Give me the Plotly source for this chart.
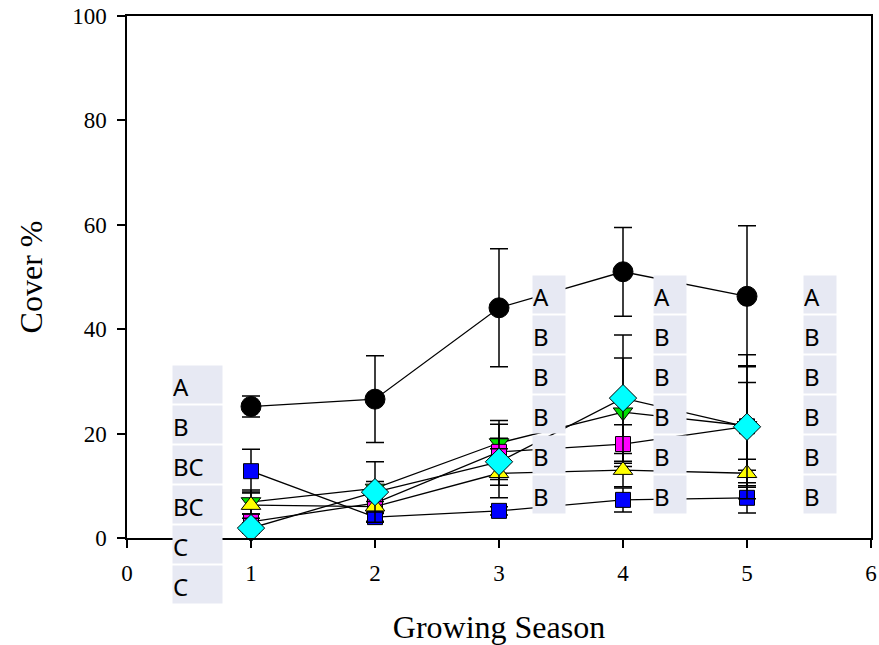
import plotly.graph_objects as go

seasons = [1, 2, 3, 4, 5]

black_mean = [25.2, 26.6, 44.1, 51.0, 46.3]
black_err = [2.0, 8.3, 11.3, 8.5, 13.5]

green_mean = [6.9, 9.5, 18.2, 24.1, 21.5]
green_err = [2.3, 1.3, 4.3, 10.4, 11.5]

magenta_mean = [3.1, 6.7, 16.5, 18.0, 21.4]
magenta_err = [1.5, 2.0, 5.3, 3.7, 8.4]

blue_mean = [12.8, 4.0, 5.2, 7.3, 7.7]
blue_err = [4.2, 0.8, 0.8, 2.3, 2.9]

yellow_mean = [6.3, 6.0, 12.4, 13.0, 12.4]
yellow_err = [2.5, 1.0, 4.7, 3.2, 2.7]

cyan_mean = [1.9, 8.8, 14.6, 26.8, 21.3]
cyan_err = [1.0, 5.8, 4.5, 12.1, 13.8]

letters_col1 = ["A", "B", "BC", "BC", "C", "C"]
letters_col2 = ["A", "B", "B", "B", "B", "B"]
letters_col3 = ["A", "B", "B", "B", "B", "B"]
letters_col4 = ["A", "B", "B", "B", "B", "B"]

series = [
    ("black", black_mean, black_err, "circle", "#000000", 20),
    ("green", green_mean, green_err, "triangle-down", "#00E000", 17),
    ("magenta", magenta_mean, magenta_err, "square", "#FF00FF", 15),
    ("blue", blue_mean, blue_err, "square", "#0000FF", 15),
    ("yellow", yellow_mean, yellow_err, "triangle-up", "#FFFF00", 17),
    ("cyan", cyan_mean, cyan_err, "diamond", "#00FFFF", 21),
]

fig = go.Figure()
for name, m, e, sym, col, sz in series:
    fig.add_trace(go.Scatter(
        x=seasons, y=m, name=name, mode="lines+markers",
        line=dict(color="black", width=1.3),
        marker=dict(symbol=sym, size=sz, color=col, line=dict(color="black", width=1)),
        error_y=dict(type="data", array=e, visible=True, color="black", thickness=1.5, width=9),
        showlegend=False, cliponaxis=False,
    ))

# letter boxes: x in data units, y in paper units (plot area spans y 0..100)
box_pitch = 40 / 522.0
cols = [
    (letters_col1, 0.363, 0.3314, 49),
    (letters_col2, 3.266, 0.5038, 32),
    (letters_col3, 4.242, 0.5038, 32),
    (letters_col4, 5.452, 0.5038, 32),
]
for letters, x0, ytop, w in cols:
    for i, t in enumerate(letters):
        fig.add_annotation(
            x=x0, y=ytop - i * box_pitch, xref="x", yref="paper",
            xanchor="left", yanchor="top", text=t, showarrow=False,
            align="left", valign="bottom", width=w, height=37,
            bgcolor="#E7E9F3", borderpad=0,
            font=dict(family="Noto Sans", size=24, color="black"),
        )

fig.update_layout(
    width=879, height=645,
    margin=dict(l=127, r=8, t=16, b=107, autoexpand=False),
    plot_bgcolor="white", paper_bgcolor="white",
    font=dict(family="Liberation Serif", size=23, color="black"),
)
fig.update_xaxes(
    range=[0, 6], tickvals=[0, 1, 2, 3, 4, 5, 6], showgrid=False, zeroline=False,
    showline=True, linecolor="black", linewidth=1.5, mirror=True, automargin=False,
    ticks="outside", ticklen=8, tickwidth=1.5, tickcolor="black", ticklabelstandoff=6,
    tickfont=dict(family="Liberation Serif", size=23),
    title=dict(text="Growing Season", font=dict(family="Liberation Serif", size=32), standoff=30),
)
fig.update_yaxes(
    range=[0, 100], tickvals=[0, 20, 40, 60, 80, 100], showgrid=False, zeroline=False,
    showline=True, linecolor="black", linewidth=1.5, mirror=True, automargin=False,
    ticks="outside", ticklen=8, tickwidth=1.5, tickcolor="black", ticklabelstandoff=6,
    tickfont=dict(family="Liberation Serif", size=23),
    title=dict(text="Cover %", font=dict(family="Liberation Serif", size=32), standoff=20),
)

fig.write_html("out.html")
